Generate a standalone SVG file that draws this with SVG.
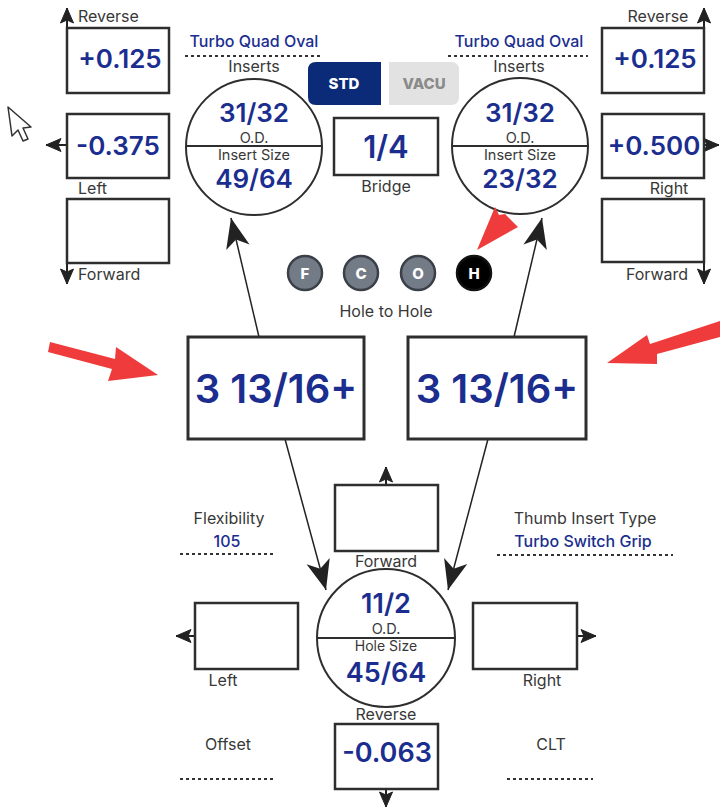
<svg xmlns="http://www.w3.org/2000/svg" width="720" height="812" viewBox="0 0 720 812">
<style>
  .bx{fill:#fff;stroke:#2e2e2e;stroke-width:2.5}
  .bx3{fill:#fff;stroke:#2e2e2e;stroke-width:3}
  .circ{fill:#fff;stroke:#2e2e2e;stroke-width:2}
  .val{font-family:Inter,"Liberation Sans",sans-serif;font-weight:600;fill:#1b2e8f;text-anchor:middle}
  .lbl{font-family:Inter,"Liberation Sans",sans-serif;font-size:16px;fill:#383838;text-anchor:middle}
  .lblc{font-family:Inter,"Liberation Sans",sans-serif;font-size:14.5px;fill:#383838;text-anchor:middle}
  .lbls{font-family:Inter,"Liberation Sans",sans-serif;font-size:16px;fill:#383838}
  .blue{font-family:Inter,"Liberation Sans",sans-serif;font-size:16px;font-weight:500;fill:#1b2e8f;text-anchor:middle}
  .dot{stroke:#333;stroke-width:2;stroke-dasharray:3 3;fill:none}
  .conn{stroke:#222;stroke-width:1.5;fill:none}
  .sarr{stroke:#222;stroke-width:2;fill:none}
  .badge{stroke:#3b4048;stroke-width:2.5;fill:#737b87}
  .btxt{font-family:Inter,"Liberation Sans",sans-serif;font-size:15px;font-weight:800;fill:#fff;text-anchor:middle}
  .red{fill:#ef3b3b}
</style>
<defs>
  <marker id="big" markerUnits="userSpaceOnUse" markerWidth="34" markerHeight="28" viewBox="-32 -14 34 28" refX="0" refY="0" orient="auto" overflow="visible">
    <path d="M0,0 L-30,-12 L-22,0 L-30,12 Z" fill="#222"/>
  </marker>
  <marker id="small" markerUnits="userSpaceOnUse" markerWidth="18" markerHeight="16" viewBox="-17 -8 18 16" refX="0" refY="0" orient="auto" overflow="visible">
    <path d="M0,0 L-15,-6.5 L-12,0 L-15,6.5 Z" fill="#222" stroke="#222" stroke-width="1" stroke-linejoin="round"/>
  </marker>
</defs>
<rect width="720" height="812" fill="#fff"/>

<!-- cursor -->
<polygon points="8,107 12,136 18,130 23,141 28,139 23,128 31,127" fill="#fff" stroke="#333" stroke-width="1.5" stroke-linejoin="round"/>

<!-- connectors -->
<g id="connectors">
  <line class="conn" x1="259" y1="337" x2="231" y2="218" marker-end="url(#big)"/>
  <line class="conn" x1="514" y1="337" x2="542" y2="218" marker-end="url(#big)"/>
  <line class="conn" x1="285" y1="439" x2="326" y2="590" marker-end="url(#big)"/>
  <line class="conn" x1="488" y1="439" x2="448" y2="590" marker-end="url(#big)"/>
  <line class="sarr" x1="67" y1="28" x2="67" y2="8" marker-end="url(#small)"/>
  <line class="sarr" x1="67" y1="145" x2="46" y2="145" marker-end="url(#small)"/>
  <line class="sarr" x1="67" y1="263" x2="67" y2="284" marker-end="url(#small)"/>
  <line class="sarr" x1="704" y1="28" x2="704" y2="8" marker-end="url(#small)"/>
  <line class="sarr" x1="704" y1="145" x2="719" y2="145" marker-end="url(#small)"/>
  <line class="sarr" x1="704" y1="262" x2="704" y2="284" marker-end="url(#small)"/>
  <line class="sarr" x1="386" y1="485" x2="386" y2="467" marker-end="url(#small)"/>
  <line class="sarr" x1="195" y1="636" x2="176" y2="636" marker-end="url(#small)"/>
  <line class="sarr" x1="577" y1="636" x2="596" y2="636" marker-end="url(#small)"/>
  <line class="sarr" x1="386" y1="789" x2="386" y2="807" marker-end="url(#small)"/>
</g>

<!-- top-left adjustment boxes -->
<g id="tl-reverse">
  <rect class="bx" x="67" y="28" width="102" height="65"/>
  <text class="val" x="120" y="68" font-size="26">+0.125</text>
  <text class="lbls" x="78" y="22">Reverse</text>
</g>
<g id="tl-left">
  <rect class="bx" x="67" y="114" width="102" height="64"/>
  <text class="val" x="118" y="155" font-size="26">-0.375</text>
  <text class="lbls" x="78" y="194">Left</text>
</g>
<g id="tl-forward">
  <rect class="bx" x="67" y="199" width="102" height="64"/>
  <text class="lbls" x="78" y="280">Forward</text>
</g>

<!-- left insert circle -->
<g id="left-insert">
  <text class="blue" x="254" y="47">Turbo Quad Oval</text>
  <line class="dot" x1="185" y1="56" x2="322" y2="56"/>
  <text class="lbl" x="254" y="72">Inserts</text>
  <circle class="circ" cx="254" cy="147" r="68"/>
  <line stroke="#2e2e2e" stroke-width="2" x1="186" y1="146" x2="322" y2="146"/>
  <text class="val" x="254" y="122" font-size="26">31/32</text>
  <text class="lblc" x="254" y="143">O.D.</text>
  <text class="lblc" x="254" y="160">Insert Size</text>
  <text class="val" x="254" y="188" font-size="26">49/64</text>
</g>

<!-- STD / VACU toggle -->
<g id="toggle">
  <path d="M316,62 H381 V105 H316 Q308,105 308,97 V70 Q308,62 316,62 Z" fill="#0b2a78"/>
  <text class="btxt" x="344" y="89">STD</text>
  <path d="M389,62 H451 Q459,62 459,70 V97 Q459,105 451,105 H389 Z" fill="#e2e2e2"/>
  <text class="btxt" x="424" y="89" style="fill:#8a8a8a">VACU</text>
</g>

<!-- bridge -->
<g id="bridge">
  <rect class="bx" x="334" y="118" width="104" height="57"/>
  <text class="val" x="386" y="158" font-size="31">1/4</text>
  <text class="lbl" x="386" y="192">Bridge</text>
</g>

<!-- right insert circle -->
<g id="right-insert">
  <text class="blue" x="519" y="47">Turbo Quad Oval</text>
  <line class="dot" x1="448" y1="56" x2="588" y2="56"/>
  <text class="lbl" x="519" y="72">Inserts</text>
  <circle class="circ" cx="520" cy="146" r="68"/>
  <line stroke="#2e2e2e" stroke-width="2" x1="452" y1="146" x2="588" y2="146"/>
  <text class="val" x="520" y="122" font-size="26">31/32</text>
  <text class="lblc" x="520" y="143">O.D.</text>
  <text class="lblc" x="520" y="160">Insert Size</text>
  <text class="val" x="520" y="188" font-size="26">23/32</text>
</g>

<!-- top-right adjustment boxes -->
<g id="tr-reverse">
  <rect class="bx" x="602" y="28" width="102" height="65"/>
  <text class="val" x="655" y="68" font-size="26">+0.125</text>
  <text class="lbl" x="658" y="22">Reverse</text>
</g>
<g id="tr-right">
  <rect class="bx" x="602" y="114" width="102" height="64"/>
  <text class="val" x="654" y="155" font-size="26">+0.500</text>
  <text class="lbl" x="669" y="194">Right</text>
</g>
<g id="tr-forward">
  <rect class="bx" x="602" y="199" width="102" height="63"/>
  <text class="lbl" x="657" y="280">Forward</text>
</g>

<!-- hole type badges -->
<g id="badges">
  <circle class="badge" cx="305" cy="273" r="17"/>
  <text class="btxt" x="305" y="278.5">F</text>
  <circle class="badge" cx="361" cy="273" r="17"/>
  <text class="btxt" x="361" y="278.5">C</text>
  <circle class="badge" cx="418" cy="273" r="17"/>
  <text class="btxt" x="418" y="278.5">O</text>
  <circle cx="474" cy="273" r="17" fill="#000" stroke="#111" stroke-width="2.5"/>
  <text class="btxt" x="474" y="278.5">H</text>
  <text class="lbl" x="386" y="317">Hole to Hole</text>
</g>

<!-- hole to hole boxes -->
<g id="h2h-left">
  <rect class="bx3" x="188" y="337" width="176" height="102"/>
  <text class="val" x="276" y="403" font-size="40">3 13/16+</text>
</g>
<g id="h2h-right">
  <rect class="bx3" x="408" y="337" width="178" height="102"/>
  <text class="val" x="497" y="403" font-size="40">3 13/16+</text>
</g>

<!-- red annotation arrows -->
<g id="annotations">
  <polygon class="red" points="50,342 115,359 116,347 158,375 108,381 112,369 48,352"/>
  <polygon class="red" points="720,321 720,337 657,354 657,364 607,363 647,335 650,344"/>
  <polygon class="red" points="477,250 495,207 499,215 505,214 518,227"/>
</g>

<!-- flexibility / thumb insert -->
<g id="flexibility">
  <text class="lbl" x="229" y="524">Flexibility</text>
  <text class="blue" x="227" y="547">105</text>
  <line class="dot" x1="180" y1="554" x2="275" y2="554"/>
</g>
<g id="thumb-insert">
  <text class="lbl" x="585" y="524">Thumb Insert Type</text>
  <text class="blue" x="583" y="547">Turbo Switch Grip</text>
  <line class="dot" x1="497" y1="555" x2="673" y2="555"/>
</g>

<!-- thumb hole -->
<g id="b-forward">
  <rect class="bx" x="335" y="485" width="103" height="66"/>
  <text class="lbl" x="386" y="567">Forward</text>
</g>
<g id="thumb-hole">
  <circle class="circ" cx="386" cy="638" r="69"/>
  <line stroke="#2e2e2e" stroke-width="2" x1="317" y1="638" x2="455" y2="638"/>
  <text class="val" x="386" y="613" font-size="27">11/2</text>
  <text class="lblc" x="386" y="634">O.D.</text>
  <text class="lblc" x="386" y="651" font-size="14px" style="font-size:14px">Hole Size</text>
  <text class="val" x="386" y="682" font-size="27">45/64</text>
</g>
<g id="b-left">
  <rect class="bx" x="195" y="603" width="103" height="66"/>
  <text class="lbl" x="223" y="686">Left</text>
</g>
<g id="b-right">
  <rect class="bx" x="473" y="603" width="104" height="66"/>
  <text class="lbl" x="542" y="686">Right</text>
</g>
<g id="b-reverse">
  <text class="lbl" x="386" y="720">Reverse</text>
  <rect class="bx" x="335" y="724" width="103" height="65"/>
  <text class="val" x="387" y="762" font-size="27">-0.063</text>
</g>

<!-- offset / CLT -->
<g id="offset">
  <text class="lbl" x="228" y="750">Offset</text>
  <line class="dot" x1="180" y1="779" x2="275" y2="779"/>
</g>
<g id="clt">
  <text class="lbl" x="551" y="750">CLT</text>
  <line class="dot" x1="507" y1="779" x2="593" y2="779"/>
</g>
</svg>
